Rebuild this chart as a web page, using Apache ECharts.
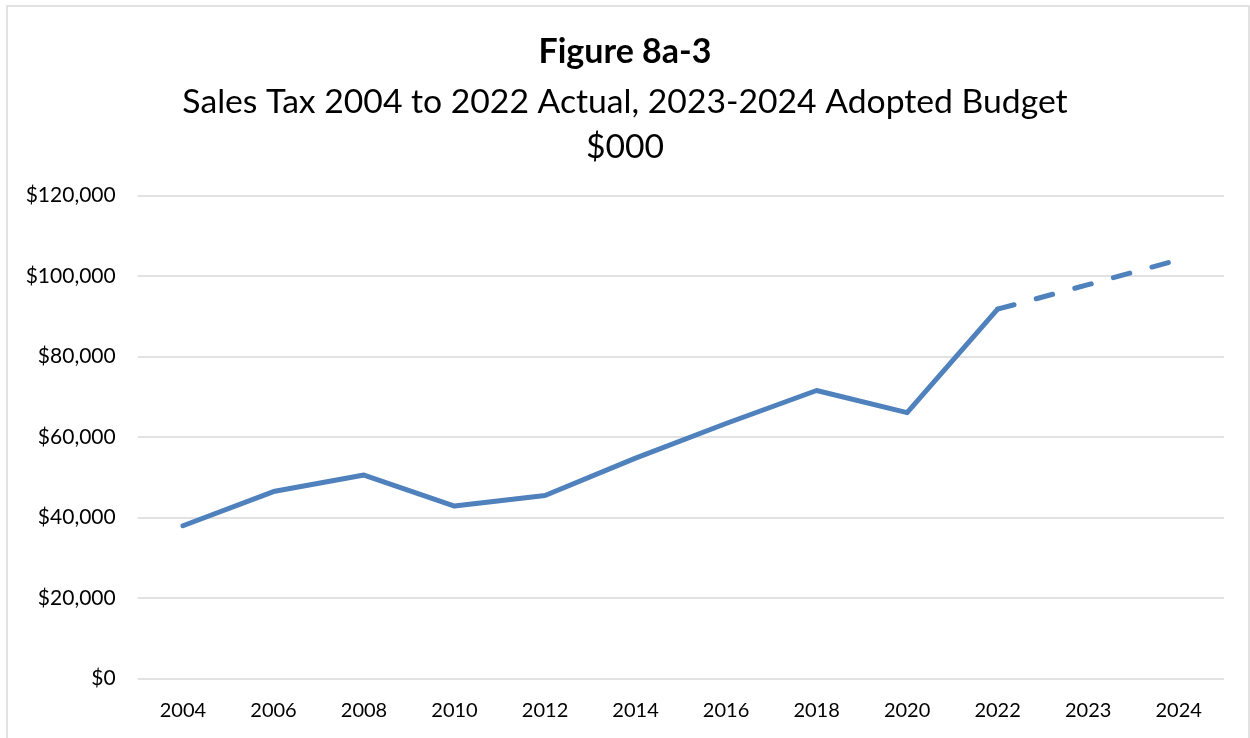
<!DOCTYPE html>
<html>
<head>
<meta charset="utf-8">
<script src="https://cdn.jsdelivr.net/npm/echarts@6/dist/echarts.min.js"></script>
<style>
html,body{margin:0;padding:0;background:#fff;}
#chart{width:1250px;height:738px;}
</style>
</head>
<body>
<div id="chart"></div>
<script>
const categories = ['2004','2006','2008','2010','2012','2014','2016','2018','2020','2022','2023','2024'];
const actual = [38000, 46500, 50600, 42900, 45500, 54800, 63400, 71600, 66100, 91800, null, null];
const budget = [null, null, null, null, null, null, null, null, null, 91800, 97900, 104100];
const yTicks = [0, 20000, 40000, 60000, 80000, 100000, 120000];

const FONT = 'Lato, "Open Sans", sans-serif';
const chart = echarts.init(document.getElementById('chart'));
const fmt = v => '$' + v.toLocaleString('en-US');
chart.setOption({
  backgroundColor: '#fff',
  animation: false,
  graphic: [{
    type: 'rect', shape: {x: 7, y: 6, width: 1242, height: 740},
    style: {fill: 'none', stroke: '#d9d9d9', lineWidth: 1.5}, silent: true
  }],
  title: [
    {text: 'Figure 8a-3', left: 'center', top: 30, textStyle: {fontFamily: FONT, fontWeight: 'bold', fontSize: 34, color: '#000'}},
    {text: 'Sales Tax 2004 to 2022 Actual, 2023-2024 Adopted Budget', left: 'center', top: 80, textStyle: {fontFamily: FONT, fontWeight: 'normal', fontSize: 33.7, color: '#000'}},
    {text: '$000', left: 'center', top: 125, textStyle: {fontFamily: FONT, fontWeight: 'normal', fontSize: 33.7, color: '#000'}}
  ],
  grid: {left: 137.7, right: 26.1, top: 195.7, bottom: 59.3, containLabel: false},
  xAxis: {
    type: 'category', data: categories, boundaryGap: true,
    axisLine: {show: false}, axisTick: {show: false},
    axisLabel: {fontFamily: FONT, fontSize: 20, color: '#000', margin: 22}
  },
  yAxis: {
    type: 'value', min: yTicks[0], max: yTicks[yTicks.length - 1], interval: yTicks[1] - yTicks[0],
    axisLine: {show: false}, axisTick: {show: false},
    splitLine: {lineStyle: {color: '#d9d9d9', width: 1.5}},
    axisLabel: {fontFamily: FONT, fontSize: 21, color: '#000', margin: 22, formatter: fmt}
  },
  series: [
    {type: 'line', data: actual, showSymbol: false, symbol: 'none', connectNulls: false,
     lineStyle: {color: '#4F81BD', width: 5, cap: 'round', join: 'round'}},
    {type: 'line', data: budget, showSymbol: false, symbol: 'none', connectNulls: false,
     lineStyle: {color: '#4F81BD', width: 5, type: [17, 23], cap: 'round', join: 'round'}}
  ]
});
</script>
</body>
</html>
